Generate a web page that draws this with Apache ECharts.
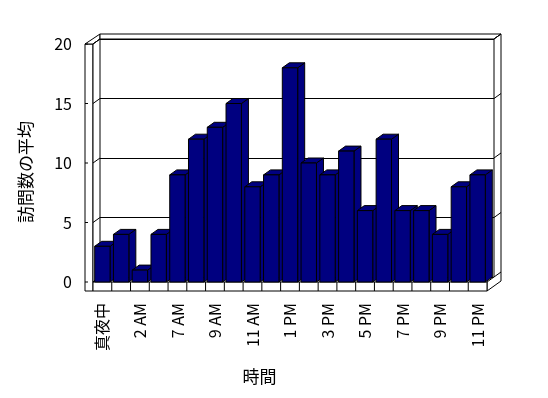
<!DOCTYPE html>
<html lang="ja" style="height: 100%">
<head>
    <meta charset="utf-8" />
    <script src="https://cdn.jsdelivr.net/npm/echarts@6/dist/echarts.min.js"></script>
</head>
<body style="height: 100%; margin: 0; background: #fff">
    <div id="container" style="width: 548px; height: 398px;"></div>
    <script type="text/javascript">
        var dom = document.getElementById('container');
        var myChart = echarts.init(dom, null, { renderer: 'canvas' });

        // 時間帯（ラベルは1つおきに表示）
        const hours = ['真夜中', '1 AM', '2 AM', '6 AM', '7 AM', '8 AM', '9 AM', '10 AM', '11 AM', '12 PM', '1 PM',
            '2 PM', '3 PM', '4 PM', '5 PM', '6 PM', '7 PM', '8 PM', '9 PM', '10 PM', '11 PM'];
        const avgVisits = [3, 4, 1, 4, 9, 12, 13, 15, 8, 9, 18, 10, 9, 11, 6, 12, 6, 6, 4, 8, 9];
        const yTicks = [0, 5, 10, 15, 20];

        const FONT = 'Noto Sans CJK JP';
        const DX = 7, DY = -5;     // 奥行き
        const WALL = 8, FLOOR = 9; // 壁・床の厚み
        const lineStyle = { stroke: '#000', lineWidth: 1, fill: '#fff' };

        // 壁と床（枠）
        function renderFrame(params, api) {
            const cs = params.coordSys;
            const L = cs.x, R = cs.x + cs.width, T = cs.y, B = cs.y + cs.height;
            const kids = [];
            // 左の壁 前面
            kids.push({ type: 'rect', shape: { x: L - WALL, y: T, width: WALL, height: B + FLOOR - T }, style: lineStyle });
            // 左の壁 上面 + 奥の壁 上面
            kids.push({ type: 'polygon', shape: { points: [[L - WALL, T], [L, T], [L + DX, T + DY], [L + DX, T + 2 * DY]] }, style: lineStyle });
            kids.push({ type: 'polygon', shape: { points: [[L + DX, T + 2 * DY], [R + 2 * DX, T + 2 * DY], [R + DX, T + DY], [L + DX, T + DY]] }, style: lineStyle });
            // 左の壁 内側
            kids.push({ type: 'polygon', shape: { points: [[L, T], [L + DX, T + DY], [L + DX, B + DY], [L, B]] }, style: lineStyle });
            // 右側の厚み
            kids.push({ type: 'polygon', shape: { points: [[R + DX, T + DY], [R + 2 * DX, T + 2 * DY], [R + 2 * DX, B + FLOOR + 2 * DY], [R, B + FLOOR], [R, B], [R + DX, B + DY]] }, style: lineStyle });
            // 床 前面
            kids.push({ type: 'rect', shape: { x: L, y: B, width: R - L, height: FLOOR }, style: lineStyle });
            const cw = api.size([1, 0])[0];
            for (let i = 1; i < hours.length; i++) {
                const x = L + i * cw;
                kids.push({ type: 'line', shape: { x1: x, y1: B, x2: x, y2: B + FLOOR }, style: { stroke: '#000', lineWidth: 1 } });
            }
            yTicks.forEach(function (v) {
                const y = api.coord([0, v])[1];
                kids.push({ type: 'line', shape: { x1: L, y1: y, x2: L + DX, y2: y + DY }, style: { stroke: '#000', lineWidth: 1 } });
                kids.push({ type: 'line', shape: { x1: R + DX, y1: y + DY, x2: R + 2 * DX, y2: y + 2 * DY }, style: { stroke: '#000', lineWidth: 1 } });
                kids.push({ type: 'line', shape: { x1: L - WALL, y1: y, x2: L - WALL + 3, y2: y }, style: { stroke: '#000', lineWidth: 1 } });
            });
            return { type: 'group', children: kids };
        }

        // 3D 風の棒
        function renderBar(params, api) {
            const i = api.value(0), v = api.value(1);
            const p0 = api.coord([i, 0]), p1 = api.coord([i, v]);
            const bw = api.size([1, 0])[0] * 0.82;
            const x0 = p0[0] - bw / 2, x1 = x0 + bw, yt = p1[1], yb = p0[1];
            const st = { fill: '#000080', stroke: '#000', lineWidth: 1 };
            return {
                type: 'group',
                children: [
                    { type: 'polygon', shape: { points: [[x1, yb], [x1, yt], [x1 + DX, yt + DY], [x1 + DX, yb + DY]] }, style: st },
                    { type: 'polygon', shape: { points: [[x0, yt], [x1, yt], [x1 + DX, yt + DY], [x0 + DX, yt + DY]] }, style: st },
                    { type: 'rect', shape: { x: x0, y: yt, width: bw, height: yb - yt }, style: st }
                ]
            };
        }

        var option = {
            backgroundColor: '#fff',
            animation: false,
            textStyle: { fontFamily: FONT },
            grid: [
                { left: 93, right: 61, top: 44, bottom: 116 },
                { left: 93 + DX, right: 61 - DX, top: 44 + DY, bottom: 116 - DY }
            ],
            xAxis: [{
                gridIndex: 0,
                type: 'category',
                data: hours,
                axisLine: { show: false },
                axisTick: { show: false },
                axisLabel: { interval: 1, rotate: 90, margin: 21, fontSize: 16, color: '#000', fontFamily: FONT }
            }, {
                gridIndex: 1,
                type: 'category',
                data: hours,
                show: false
            }],
            yAxis: [{
                gridIndex: 0,
                type: 'value',
                min: 0,
                max: 20,
                interval: 5,
                axisLine: { show: false },
                axisTick: { show: false },
                splitLine: { show: false },
                axisLabel: { margin: 21, fontSize: 16, color: '#000', fontFamily: FONT }
            }, {
                gridIndex: 1,
                type: 'value',
                min: 0,
                max: 20,
                interval: 5,
                axisLine: { show: false },
                axisTick: { show: false },
                axisLabel: { show: false },
                splitLine: { show: true, lineStyle: { color: '#000', width: 1 } }
            }],
            graphic: [{
                type: 'text',
                x: 25.5,
                y: 172,
                rotation: Math.PI / 2,
                style: { text: '訪問数の平均', font: '17px "Noto Sans CJK JP"', fill: '#000', align: 'center', verticalAlign: 'middle' }
            }, {
                type: 'text',
                x: 259.5,
                y: 377,
                style: { text: '時間', font: '17px "Noto Sans CJK JP"', fill: '#000', align: 'center', verticalAlign: 'middle' }
            }],
            series: [{
                type: 'custom',
                name: 'frame',
                xAxisIndex: 0,
                yAxisIndex: 0,
                z: 0,
                silent: true,
                renderItem: renderFrame,
                data: [[0, 0]]
            }, {
                type: 'custom',
                name: '訪問数の平均',
                xAxisIndex: 0,
                yAxisIndex: 0,
                z: 3,
                renderItem: renderBar,
                encode: { x: 0, y: 1 },
                data: avgVisits.map(function (v, i) { return [i, v]; })
            }]
        };

        myChart.setOption(option);
        window.addEventListener('resize', myChart.resize);
    </script>
</body>
</html>
